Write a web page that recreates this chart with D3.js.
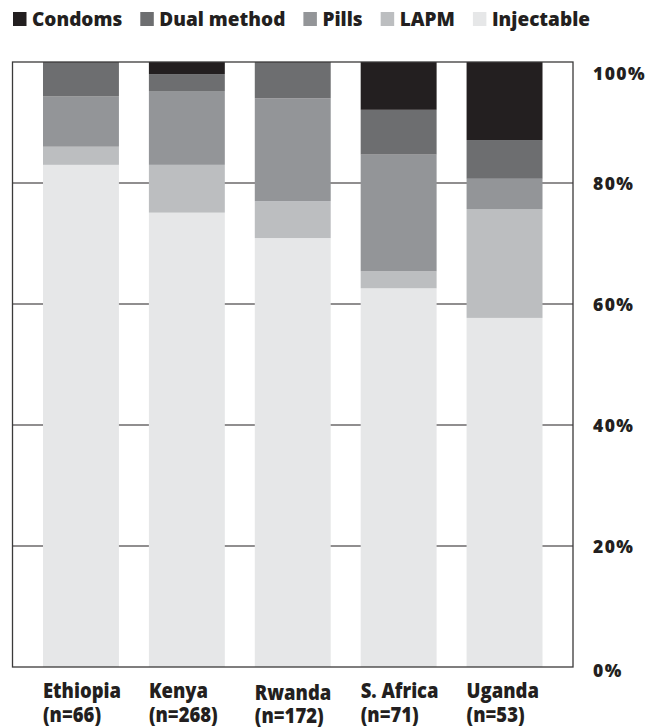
<!DOCTYPE html>
<html>
<head>
<meta charset="utf-8">
<script src="https://cdn.jsdelivr.net/npm/d3@7/dist/d3.min.js"></script>
<style>
  html, body { margin: 0; padding: 0; background: #fff; }
  text { font-family: "Open Sans", "DejaVu Sans", sans-serif; font-weight: 800; fill: #231f20; }
</style>
</head>
<body>
<svg id="chart" width="662" height="727"></svg>
<script>
// ---- data ----
const countries = ["Ethiopia", "Kenya", "Rwanda", "S. Africa", "Uganda"];
const sampleSizes = ["(n=66)", "(n=268)", "(n=172)", "(n=71)", "(n=53)"];
const methods = ["Condoms", "Dual method", "Pills", "LAPM", "Injectable"];
// percentages by method, in country order
const condoms    = [0.0, 2.0, 0.0, 7.9, 12.9];
const dualMethod = [5.7, 2.8, 6.0, 7.4, 6.4];
const pills      = [8.3, 12.2, 17.0, 19.3, 5.0];
const lapm       = [3.0, 7.9, 6.1, 2.8, 18.0];
const injectable = [83.0, 75.1, 70.9, 62.6, 57.7];
const yTicks = [0, 20, 40, 60, 80, 100];
const tickLabels = ["0%", "20%", "40%", "60%", "80%", "100%"];

const seriesValues = [condoms, dualMethod, pills, lapm, injectable];
const colors = ["#231f20", "#6d6e70", "#939598", "#bcbec0", "#e6e7e8"];

const svg = d3.select("#chart");
const plot = { left: 12.5, right: 573, top: 62, bottom: 667 };

const x = d3.scaleBand()
  .domain(countries)
  .range([plot.left, plot.right])
  .paddingInner(0.283)
  .paddingOuter(0.288);

const y = d3.scaleLinear().domain([0, 100]).range([plot.bottom, plot.top]);

const table = countries.map((c, i) => {
  const row = { country: c };
  methods.forEach((m, k) => row[m] = seriesValues[k][i]);
  return row;
});
const stackOrder = methods.slice().reverse();
const stacked = d3.stack().keys(stackOrder)(table);
const color = d3.scaleOrdinal().domain(methods).range(colors);

// gridlines (behind bars)
svg.append("g")
  .selectAll("line")
  .data(yTicks.filter(t => t > 0 && t < 100))
  .join("line")
  .attr("x1", plot.left).attr("x2", plot.right)
  .attr("y1", d => y(d)).attr("y2", d => y(d))
  .attr("stroke", "#231f20").attr("stroke-width", 1.1);

// bars
svg.append("g")
  .selectAll("g")
  .data(stacked)
  .join("g")
  .attr("fill", d => color(d.key))
  .selectAll("rect")
  .data(d => d)
  .join("rect")
  .attr("x", d => x(d.data.country))
  .attr("width", x.bandwidth())
  .attr("y", d => y(d[1]))
  .attr("height", d => y(d[0]) - y(d[1]));

// frame
svg.append("rect")
  .attr("x", plot.left).attr("y", plot.top)
  .attr("width", plot.right - plot.left).attr("height", plot.bottom - plot.top)
  .attr("fill", "none").attr("stroke", "#3b3a3a").attr("stroke-width", 1.3);

// right axis labels
const yAxis = d3.axisRight(y).tickValues(yTicks).tickSize(0)
  .tickFormat((d, i) => tickLabels[i]);
const ya = svg.append("g").attr("transform", `translate(${plot.right + 20},0)`).call(yAxis);
ya.select(".domain").remove();
ya.selectAll("text")
  .attr("x", 0)
  .attr("dy", d => d === 100 ? "1.0em" : d === 0 ? "0.55em" : "0.35em")
  .attr("text-anchor", "start")
  .style("font-family", '"Open Sans", sans-serif')
  .style("font-weight", 800)
  .style("font-size", "17.5px")
  .style("letter-spacing", "1.4px")
  .attr("fill", "#231f20");

// category labels (slightly condensed)
const catG = svg.append("g");
countries.forEach((c, i) => {
  const shift = c === "Rwanda" ? 1.5 : 0;
  const t = catG.append("text")
    .attr("transform", `translate(${x(c)},${698 + shift}) scale(0.9,1)`)
    .style("font-size", "20.5px");
  t.append("tspan").attr("x", 0).text(c);
  t.append("tspan").attr("x", 0).attr("dy", 24).text(sampleSizes[i]);
});

// legend
const leg = svg.append("g");
let cx = 13;
const sx = 0.95;
methods.forEach((m, k) => {
  leg.append("rect")
    .attr("x", cx).attr("y", 12)
    .attr("width", 13.5).attr("height", 14)
    .attr("fill", colors[k]);
  const t = leg.append("text")
    .attr("transform", `translate(${cx + 19},26) scale(${sx},1)`)
    .style("font-size", "20px")
    .text(m);
  const w = t.node().getComputedTextLength() * sx;
  cx = cx + 19 + w + 18;
});
</script>
</body>
</html>
